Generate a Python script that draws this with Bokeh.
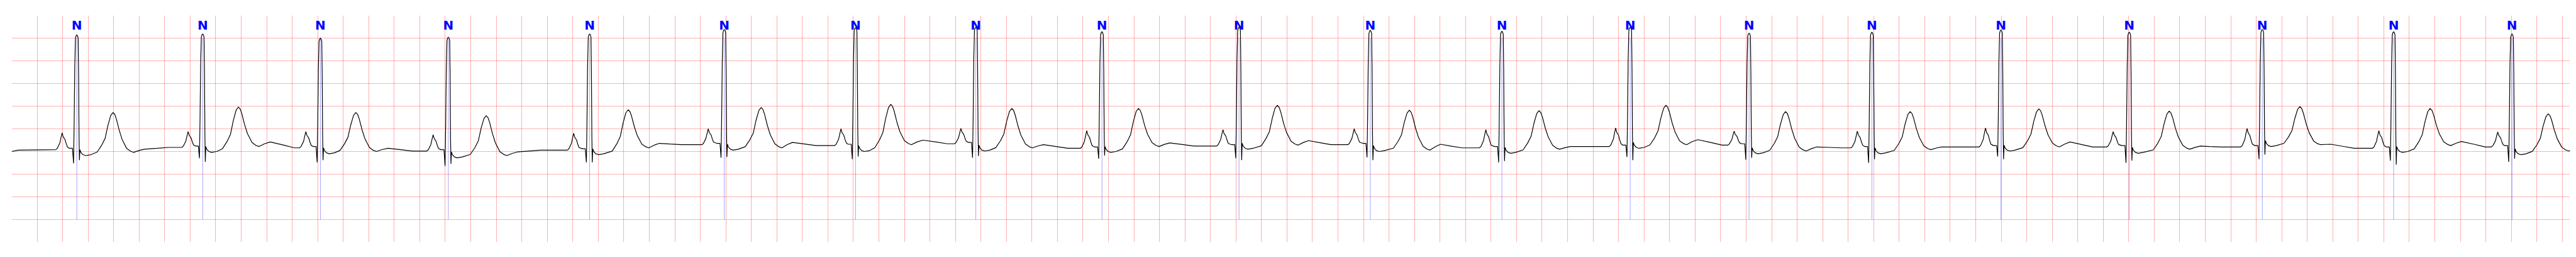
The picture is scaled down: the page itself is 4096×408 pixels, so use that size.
from bokeh.plotting import figure
from bokeh.models import FixedTicker, Grid, ColumnDataSource
from bokeh.core.properties import value
from bokeh.embed import file_html
from bokeh.resources import INLINE

# ---- data (time in s, amplitude in mV) ----
r_times = [0.511, 1.498, 2.421, 3.424, 4.532, 5.588, 6.617, 7.560, 8.549, 9.624,
           10.653, 11.685, 12.691, 13.623, 14.586, 15.598, 16.604, 17.647, 18.677, 19.605]
labels = ["N"] * 20
pre_amp = [0.04, 0.09, 0.08, 0.01, 0.03, 0.15, 0.13, 0.17, 0.07, 0.12,
           0.15, 0.08, 0.11, 0.14, 0.08, 0.10, 0.10, 0.10, 0.07, 0.10]
p_off = [-0.115, -0.114, -0.114, -0.119, -0.125, -0.126, -0.114, -0.117, -0.119, -0.126,
         -0.126, -0.126, -0.114, -0.117, -0.114, -0.121, -0.126, -0.119, -0.116, -0.112]
p_amp = [0.41, 0.44, 0.44, 0.37, 0.40, 0.50, 0.50, 0.51, 0.46, 0.48,
         0.50, 0.48, 0.52, 0.45, 0.45, 0.52, 0.44, 0.51, 0.46, 0.43]
q_amp = [-0.26, -0.15, -0.24, -0.32, -0.24, -0.14, -0.17, -0.14, -0.16, -0.15,
         -0.13, -0.24, -0.12, -0.18, -0.25, -0.11, -0.25, -0.17, -0.20, -0.23]
r_amp = [2.57, 2.59, 2.50, 2.52, 2.59, 2.69, 2.73, 2.74, 2.64, 2.74,
         2.67, 2.65, 2.74, 2.61, 2.63, 2.68, 2.63, 2.69, 2.64, 2.59]
s_amp = [-0.19, -0.23, -0.19, -0.27, -0.24, -0.12, -0.11, -0.10, -0.09, -0.19,
         -0.19, -0.21, -0.19, -0.14, -0.17, -0.17, -0.20, -0.07, -0.29, -0.16]
st_amp = [-0.09, -0.02, -0.05, -0.14, -0.07, 0.03, 0.00, 0.01, -0.02, 0.05,
          0.00, -0.04, 0.07, -0.05, -0.05, 0.01, -0.04, 0.11, -0.02, -0.07]
t_off = [0.284, 0.280, 0.278, 0.297, 0.302, 0.289, 0.276, 0.282, 0.286, 0.300,
         0.306, 0.291, 0.280, 0.286, 0.300, 0.297, 0.313, 0.295, 0.286, 0.284]
t_amp = [0.86, 0.98, 0.86, 0.79, 0.92, 0.97, 1.04, 0.95, 0.95, 1.02,
         0.91, 0.90, 1.02, 0.88, 0.88, 0.94, 0.89, 0.99, 0.95, 0.83]
post_amp = [-0.02, 0.11, 0.00, -0.09, 0.08, 0.08, 0.15, 0.08, 0.11, 0.14,
            0.03, 0.05, 0.15, 0.01, 0.04, 0.10, 0.05, 0.15, 0.13, 0.01]
u_amp = [0.05, 0.21, 0.07, -0.01, 0.18, 0.20, 0.25, 0.15, 0.19, 0.24,
         0.16, 0.11, 0.26, 0.10, 0.10, 0.21, 0.12, 0.16, 0.22, 0.05]
start_amp = [0.0, 0.03]
start_t = [0.0, 0.05]
end_amp = 0.01
t_max = 20.06

# ---- build the trace vertices from the per-beat readings ----
xs = list(start_t)
ys = list(start_amp)
n = len(r_times)
for i in range(n):
    tr = r_times[i]
    pre, P, Q, R, S = pre_amp[i], p_amp[i], q_amp[i], r_amp[i], s_amp[i]
    ST, T, post, U = st_amp[i], t_amp[i], post_amp[i], u_amp[i]
    nxt = pre_amp[i + 1] if i + 1 < n else end_amp
    pr = pre + 0.03
    po, to = p_off[i], t_off[i]
    beat = [
        (po - 0.050, pre),
        (po - 0.038, pre + 0.08 * (P - pre)),
        (po - 0.018, pre + 0.40 * (P - pre)),
        (po - 0.008, pre + 0.75 * (P - pre)),
        (po, P),
        (po + 0.008, pr + 0.75 * (P - pr)),
        (po + 0.022, pr + 0.58 * (P - pr)),
        (po + 0.032, pr + 0.30 * (P - pr)),
        (po + 0.042, pr + 0.08 * (P - pr)),
        (-0.058, pr),
        (-0.034, pr),
        (-0.0255, Q),
        (-0.021, Q + 0.30 * (R - Q)),
        (-0.016, Q + 0.75 * (R - Q)),
        (-0.0107, R - 0.07),
        (-0.005, R - 0.015),
        (0.0, R),
        (0.005, R - 0.015),
        (0.0107, R - 0.07),
        (0.014, S + 0.70 * (R - S)),
        (0.0175, S + 0.20 * (R - S)),
        (0.0205, S),
        (0.0245, ST + 0.13),
        (0.032, ST + 0.07),
        (0.048, ST + 0.02),
        (0.070, ST),
        (0.110, ST + 0.02),
        (to - 0.125, ST + 0.08 * (T - ST)),
        (to - 0.089, ST + 0.24 * (T - ST)),
        (to - 0.062, ST + 0.40 * (T - ST)),
        (to - 0.040, ST + 0.70 * (T - ST)),
        (to - 0.018, ST + 0.93 * (T - ST)),
        (to, T),
        (to + 0.014, post + 0.95 * (T - post)),
        (to + 0.027, post + 0.83 * (T - post)),
        (to + 0.049, post + 0.55 * (T - post)),
        (to + 0.072, post + 0.32 * (T - post)),
        (to + 0.107, post + 0.10 * (T - post)),
        (to + 0.137, post + 0.03 * (T - post)),
        (to + 0.162, post),
        (to + 0.205, post + 0.6 * (U - post)),
        (max(0.53, to + 0.245), U),
        (0.63, U + 0.5 * (nxt - U)),
        (0.72, nxt),
    ]
    for dt, v in beat:
        xs.append(tr + dt)
        ys.append(v)

src = ColumnDataSource(dict(x=xs, y=ys))
lab = ColumnDataSource(dict(x=r_times, y=[2.79] * n, text=labels,
                            y0=[-1.5] * n, y1=[2.5] * n))

p = figure(width=4096, height=408, x_range=(0, t_max), y_range=(-2.0, 3.0),
           output_backend="svg", toolbar_location=None,
           x_axis_location=None, y_axis_location=None,
           min_border_left=18, min_border_right=10,
           min_border_top=24, min_border_bottom=24)
p.outline_line_color = None
p.background_fill_color = "white"
p.border_fill_color = "white"

# remove default grids, add ECG-paper grids
for g in list(p.center):
    if isinstance(g, Grid):
        p.center.remove(g)
xt = [round(0.2 * k, 1) for k in range(101)]
yt = [-2.0, -1.5, -1.0, -0.5, 0.0, 0.5, 1.0, 1.5, 2.0, 2.5]
for dim, ticks in ((0, xt), (1, yt)):
    p.add_layout(Grid(dimension=dim, ticker=FixedTicker(ticks=ticks),
                      grid_line_color="red", grid_line_alpha=0.3,
                      grid_line_width=1.1), "center")

p.segment(x0="x", y0="y0", x1="x", y1="y1", source=lab,
          line_color="blue", line_width=0.6, line_alpha=0.6)
p.line("x", "y", source=src, line_color="black", line_width=1.2)
p.text(x="x", y="y", text="text", source=lab,
       text_font=value("DejaVu Sans"), text_font_style="bold",
       text_font_size="20px", text_color="blue",
       text_align="center", text_baseline="alphabetic")

open("out.html", "w").write(file_html(p, INLINE))
